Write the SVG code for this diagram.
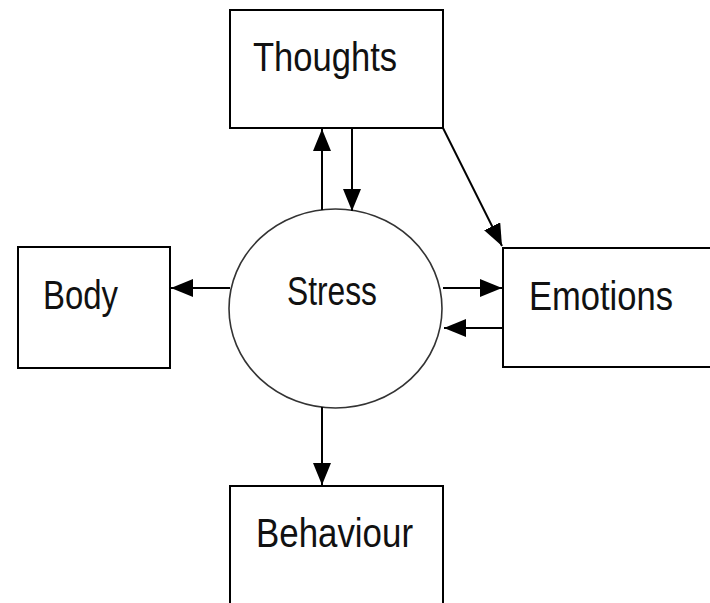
<svg xmlns="http://www.w3.org/2000/svg" width="710" height="603" viewBox="0 0 710 603">
<style>
.box{fill:#fff;stroke:#000;stroke-width:2}
.ell{fill:#fff;stroke:#333;stroke-width:1.6}
.lbl{font-family:"Liberation Sans",Arial,sans-serif;font-size:41px;fill:#111}
.con{stroke:#000;stroke-width:2;fill:none;marker-end:url(#ah)}
</style>
<defs>
<marker id="ah" markerUnits="userSpaceOnUse" markerWidth="22" markerHeight="18" viewBox="0 0 22 18" refX="22" refY="9" orient="auto">
<path d="M0,0 L22,9 L0,18 Z" fill="#000"/>
</marker>
</defs>
<rect width="710" height="603" fill="#fff"/>
<g id="thoughts"><rect class="box" x="230" y="10" width="213" height="118"/><text class="lbl" x="253" y="71" textLength="144" lengthAdjust="spacingAndGlyphs">Thoughts</text></g>
<g id="body"><rect class="box" x="18" y="247" width="152" height="121"/><text class="lbl" x="43" y="309" textLength="75" lengthAdjust="spacingAndGlyphs">Body</text></g>
<g id="emotions"><rect class="box" x="503" y="248" width="220" height="119"/><text class="lbl" x="529" y="310" textLength="144" lengthAdjust="spacingAndGlyphs">Emotions</text></g>
<g id="behaviour"><rect class="box" x="230" y="486" width="213" height="130"/><text class="lbl" x="256" y="547" textLength="157" lengthAdjust="spacingAndGlyphs">Behaviour</text></g>
<g id="stress"><ellipse class="ell" cx="335.5" cy="308.5" rx="106.5" ry="99.5"/><text class="lbl" x="287" y="305" textLength="90" lengthAdjust="spacingAndGlyphs">Stress</text></g>
<g id="connectors">
<line class="con" x1="322" y1="210" x2="322" y2="129"/>
<line class="con" x1="352" y1="128" x2="352" y2="211"/>
<line class="con" x1="230" y1="288" x2="171" y2="288"/>
<line class="con" x1="443" y1="288" x2="502" y2="288"/>
<line class="con" x1="503" y1="328" x2="444" y2="328"/>
<line class="con" x1="443" y1="128" x2="502" y2="246"/>
<line class="con" x1="322" y1="407" x2="322" y2="485"/>
</g>
</svg>
